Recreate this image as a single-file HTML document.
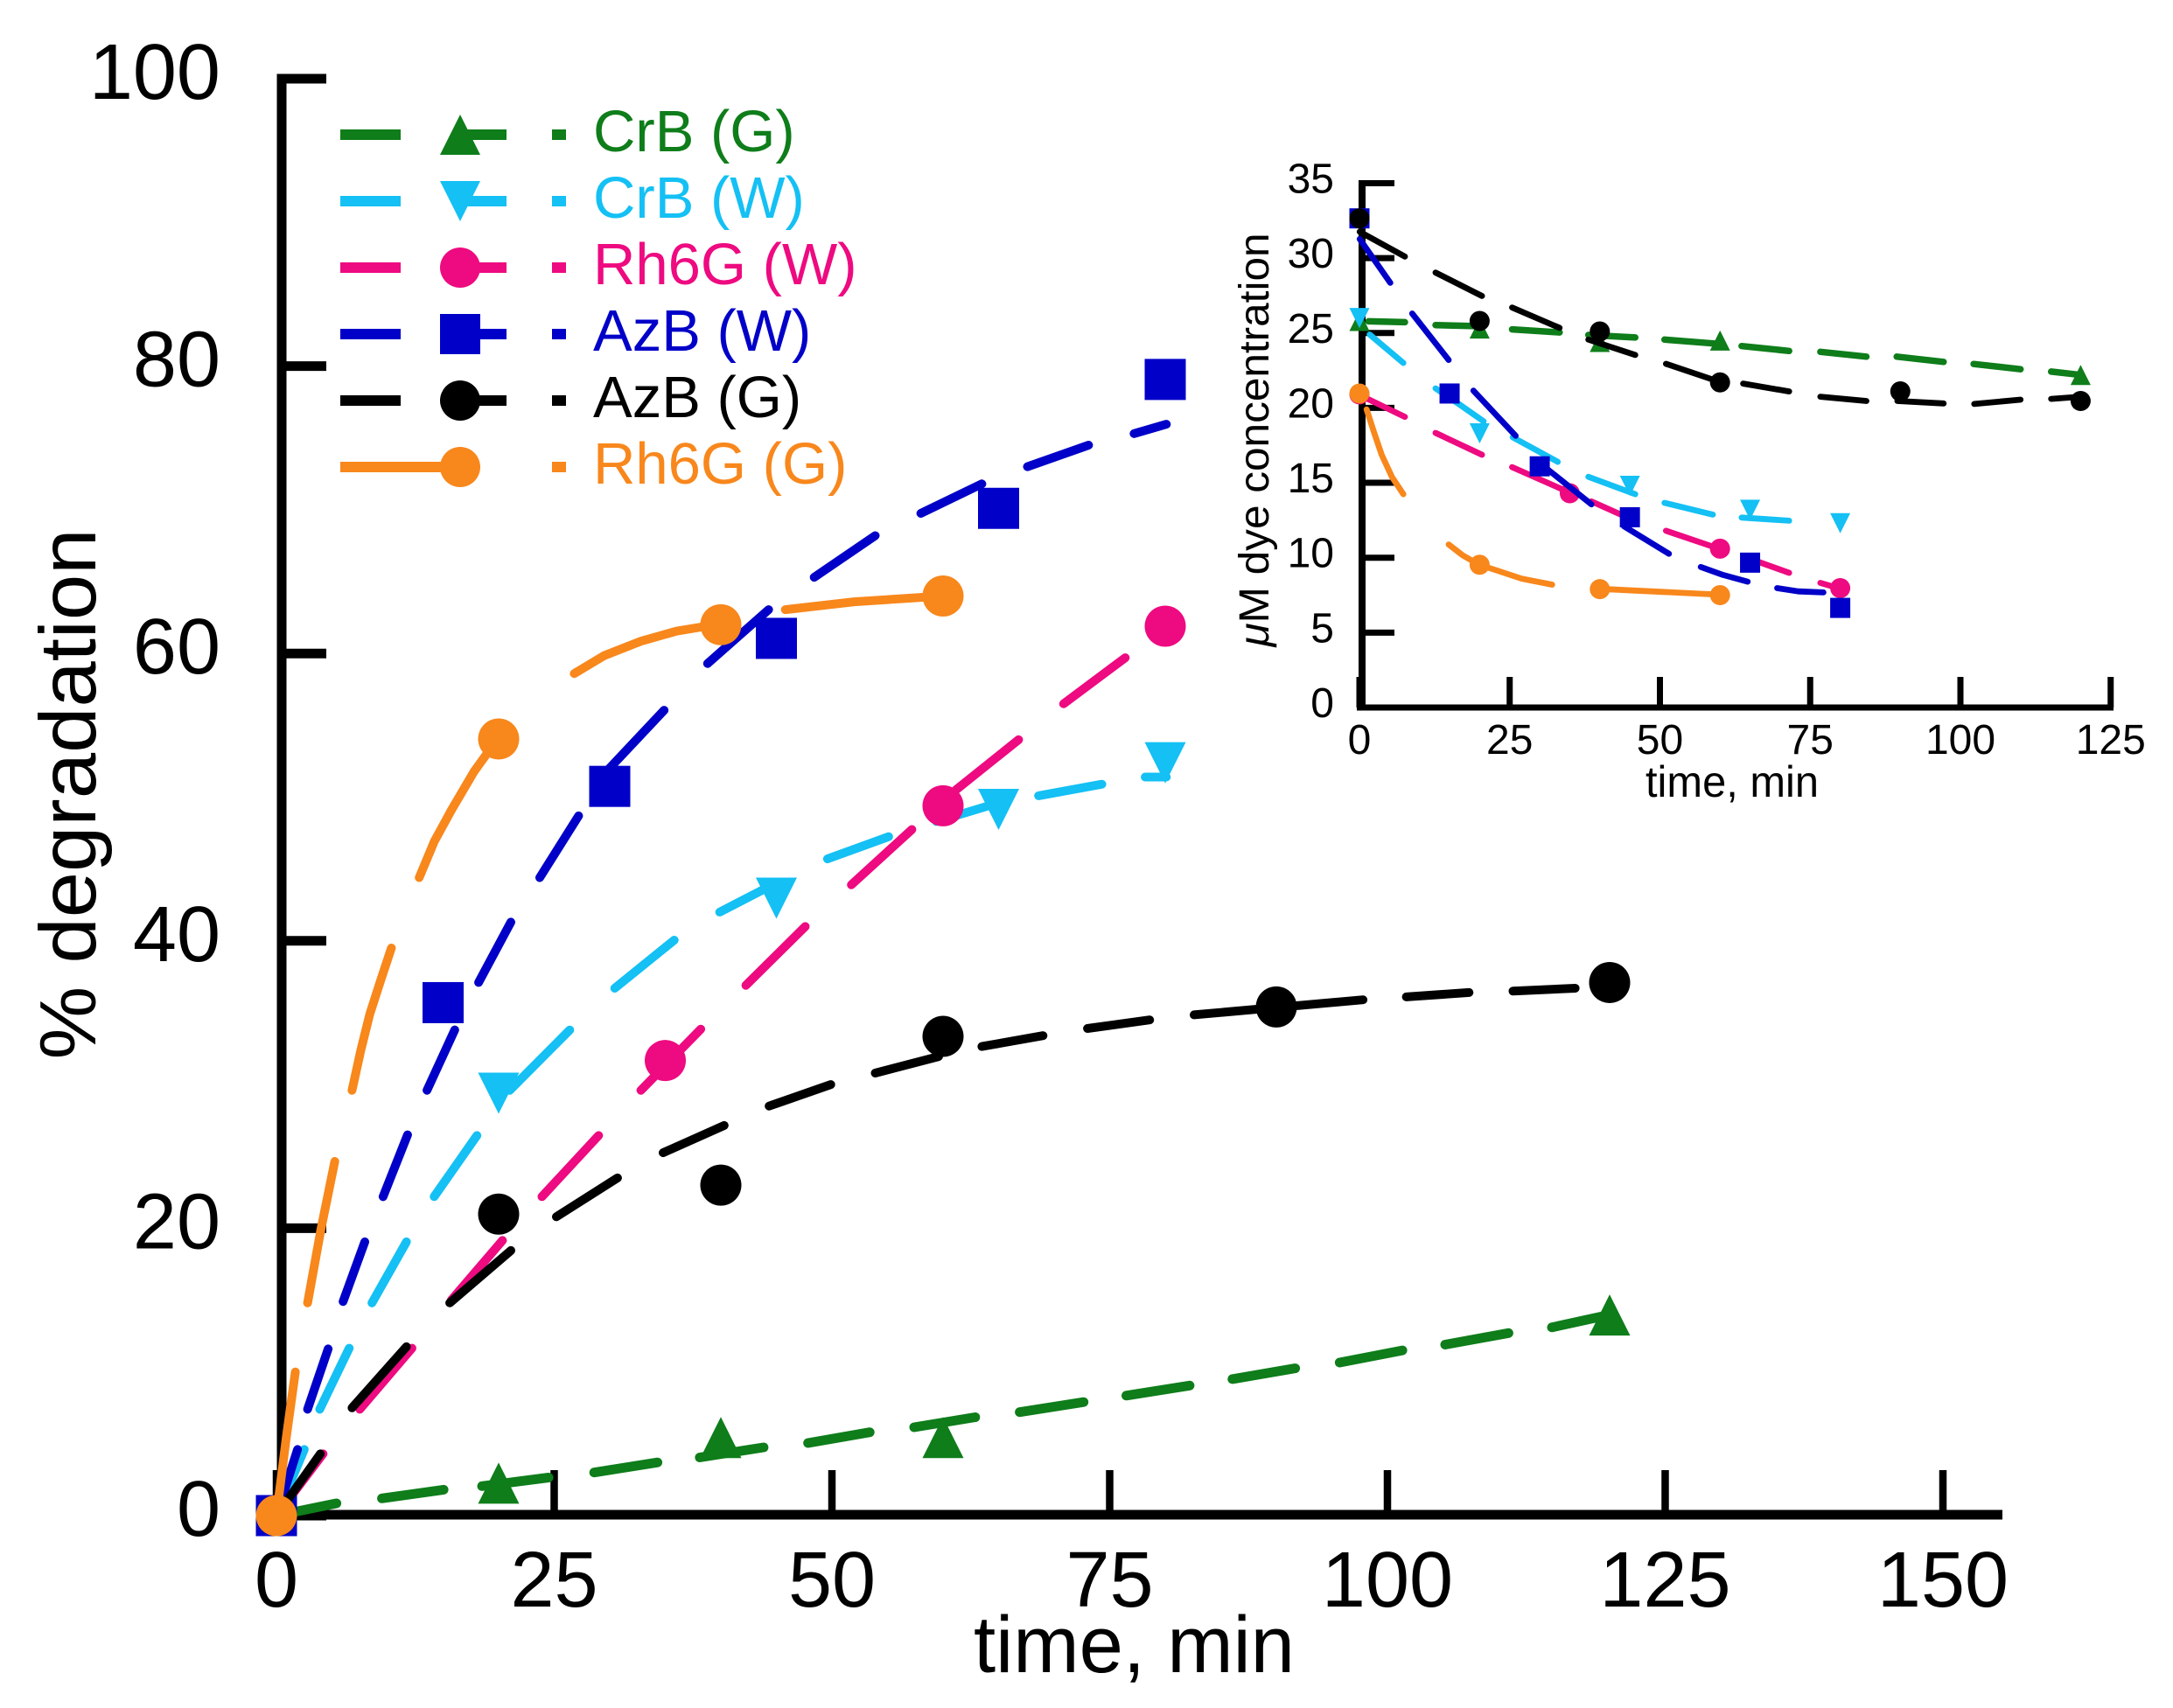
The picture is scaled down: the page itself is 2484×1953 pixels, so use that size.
<!DOCTYPE html>
<html lang="en">
<head>
<meta charset="utf-8">
<title>Dye degradation vs time</title>
<style>
  html, body { margin: 0; padding: 0; background: #fff; }
  body { width: 2484px; height: 1953px; overflow: hidden; }
  svg { display: block; font-family: "Liberation Sans", Arial, sans-serif; }
</style>
</head>
<body>
<svg id="chart" xmlns="http://www.w3.org/2000/svg" width="2484" height="1953" viewBox="0 0 2484 1953">
  <rect x="0" y="0" width="2484" height="1953" fill="#ffffff"/>
  <g id="main-plot"></g>
  <g id="inset-plot"></g>

  <text transform="translate(109 908) rotate(-90)" text-anchor="middle" font-size="91" textLength="607" lengthAdjust="spacingAndGlyphs" fill="#000">% degradation</text>
  <text x="1113" y="1912" font-size="92" textLength="367" lengthAdjust="spacingAndGlyphs" fill="#000">time, min</text>
  <text transform="translate(1450 503) rotate(-90)" text-anchor="middle" font-size="48" textLength="473" lengthAdjust="spacingAndGlyphs" fill="#000"><tspan font-style="italic">μ</tspan>M dye concentration</text>
  <text x="1881" y="911" font-size="50" textLength="198" lengthAdjust="spacingAndGlyphs" fill="#000">time, min</text>

  <g stroke-width="12">
    <g>
      <path d="M389 154H458M526 154H579M631 154H647" stroke="#0e7d1a" fill="none"/>
      <polygon points="526,131 503,177 549,177" fill="#0e7d1a"/>
      <text x="678" y="173" font-size="67" fill="#0e7d1a">CrB (G)</text>
    </g>
    <g>
      <path d="M389 230H458M526 230H579M631 230H647" stroke="#14c0f4" fill="none"/>
      <polygon points="503,207 549,207 526,253" fill="#14c0f4"/>
      <text x="678" y="249" font-size="67" fill="#14c0f4">CrB (W)</text>
    </g>
    <g>
      <path d="M389 306H458M526 306H579M631 306H647" stroke="#ee0a80" fill="none"/>
      <circle cx="526" cy="306" r="23" fill="#ee0a80"/>
      <text x="678" y="325" font-size="67" fill="#ee0a80">Rh6G (W)</text>
    </g>
    <g>
      <path d="M389 382H458M526 382H579M631 382H647" stroke="#0000c8" fill="none"/>
      <rect x="503" y="359" width="46" height="46" fill="#0000c8"/>
      <text x="678" y="401" font-size="67" fill="#0000c8">AzB (W)</text>
    </g>
    <g>
      <path d="M389 458H458M526 458H579M631 458H647" stroke="#000" fill="none"/>
      <circle cx="526" cy="458" r="23" fill="#000"/>
      <text x="678" y="477" font-size="67" fill="#000">AzB (G)</text>
    </g>
    <g>
      <path d="M389 534H526M631 534H647" stroke="#f8871c" fill="none"/>
      <circle cx="526" cy="534" r="23" fill="#f8871c"/>
      <text x="678" y="553" font-size="67" fill="#f8871c">Rh6G (G)</text>
    </g>
  </g>
</svg>

<script>
// ---------- Main plot data ----------
const mainXTicks = [0, 25, 50, 75, 100, 125, 150];
const mainYTicks = [0, 20, 40, 60, 80, 100];

const mainCrbGTimes = [20, 40, 60, 120];
const mainCrbGValues = [2.26, 5.43, 5.43, 13.96];
const mainCrbGFitTimes = [0, 5.4, null, 9.5, 15.05, null, 18.5, 24.5, null, 28.6, 34.3, null, 38.1, 43.85, null, 47.85, 53.4, null, 57.4, 62.9, null, 66.9, 72.65, null, 76.5, 82.2, null, 86.05, 91.7, null, 95.7, 101.35, null, 105.2, 110.9, null, 114.8, 119.85];
const mainCrbGFitValues = [0, 0.85, null, 1.2, 1.8, null, 2.05, 2.65, null, 3.0, 3.7, null, 4.05, 4.75, null, 5.05, 5.8, null, 6.15, 6.85, null, 7.2, 7.9, null, 8.35, 9.05, null, 9.5, 10.25, null, 10.65, 11.5, null, 11.9, 12.7, null, 13.1, 13.95];

const mainCrbWTimes = [0, 20, 45, 65, 80];
const mainCrbWValues = [0, 29.4, 42.97, 49.15, 52.4];
const mainCrbWFitTimes = [0, 2.5, null, 3.9, 6.55, null, 8.6, 11.7, null, 14.2, 18.05, null, 21.0, 26.4, null, 30.45, 35.8, null, 39.9, 44.4, null, 49.6, 55.1, null, 59.4, 64.1, null, 68.6, 74.3, null, 78.2, 80.1];
const mainCrbWFitValues = [0, 4.6, null, 7.4, 11.65, null, 14.8, 19.05, null, 22.2, 26.45, null, 29.6, 33.8, null, 36.7, 40.05, null, 42, 43.8, null, 45.7, 47.25, null, 48.3, 49.4, null, 50.1, 50.9, null, 51.4, 51.4];

const mainRh6gWTimes = [0, 35, 60, 80];
const mainRh6gWValues = [0, 31.67, 49.4, 61.9];
const mainRh6gWFitTimes = [0, 4.2, null, 7.5, 12.2, null, 15.75, 20.35, null, 23.9, 29, null, 32.8, 38.2, null, 42.25, 47.6, null, 51.75, 57.2, null, 61.15, 66.8, null, 70.85, 76.4];
const mainRh6gWFitValues = [0, 4.3, null, 7.4, 11.65, null, 15, 19.15, null, 22.2, 26.45, null, 29.6, 33.85, null, 36.9, 41, null, 43.9, 47.75, null, 50.5, 54, null, 56.5, 59.7];

const mainAzbWTimes = [0, 15, 30, 45, 65, 80];
const mainAzbWValues = [0, 35.7, 50.75, 61.05, 70.1, 79.07];
const mainAzbWFitTimes = [0, 1.9, null, 2.8, 4.65, null, 6.0, 7.95, null, 9.6, 11.8, null, 13.55, 16.05, null, 18.2, 21.1, null, 23.7, 27.2, null, 29.84, 34.9, null, 38.8, 44.3, null, 48.4, 53.9, null, 58.0, 63.5, null, 67.6, 73.1, null, 77.2, 80.1];
const mainAzbWFitValues = [0, 4.6, null, 7.4, 11.6, null, 14.9, 19.05, null, 22.2, 26.5, null, 29.6, 33.8, null, 37.1, 41.3, null, 44.4, 48.7, null, 51.9, 56.05, null, 59.3, 63.05, null, 65.3, 68.2, null, 69.75, 71.8, null, 73.0, 74.5, null, 75.3, 75.95];

const mainAzbGTimes = [0, 20, 40, 60, 90, 120];
const mainAzbGValues = [0, 20.98, 23.0, 33.35, 35.4, 37.1];
const mainAzbGFitTimes = [0, 3.95, null, 6.8, 11.7, null, 15.6, 21.1, null, 25.2, 30.7, null, 34.8, 40.3, null, 44.35, 49.9, null, 53.9, 59.6, null, 63.5, 69, null, 73, 78.6, null, 82.6, 97.8, null, 101.7, 107.35, null, 111.3, 116.9];
const mainAzbGFitValues = [0, 4.3, null, 7.5, 11.75, null, 14.8, 18.45, null, 20.8, 23.5, null, 25.25, 27.15, null, 28.5, 30, null, 30.8, 31.95, null, 32.65, 33.4, null, 33.9, 34.5, null, 34.85, 35.9, null, 36.1, 36.4, null, 36.5, 36.7];

const mainRh6gGTimes = [0, 20, 40, 60];
const mainRh6gGValues = [0, 54.05, 62.0, 64.0];
const mainRh6gGFitTimes = [0, 0.9, 1.7, null, 2.8, 4, 5.25, null, 6.8, 7.6, 8.4, 9.4, 10.35, null, 12.85, 14.2, 15.75, 17.8, 19.9, null, 26.8, 29.5, 32.8, 36, 39.9, null, 45.8, 52, 60];
const mainRh6gGFitValues = [0, 5.5, 10.0, null, 14.8, 19.9, 24.65, null, 29.6, 32.4, 34.9, 37.3, 39.5, null, 44.4, 46.9, 49.1, 51.8, 54.05, null, 58.6, 59.85, 60.85, 61.55, 62.05, null, 63.05, 63.6, 64];

// ---------- Inset plot data ----------
const insetXTicks = [0, 25, 50, 75, 100, 125];
const insetYTicks = [0, 5, 10, 15, 20, 25, 30, 35];

const insetCrbGTimes = [0, 20, 40, 60, 120];
const insetCrbGValues = [25.8, 25.3, 24.4, 24.5, 22.2];
const insetCrbGFitTimes = [1.5, 7.57, null, 12.66, 20.1, null, 25.4, 33.3, null, 38.1, 45.9, null, 50.75, 60, null, 63.6, 71.5, null, 76.7, 84.35, null, 89.4, 97.2, null, 102.2, 110, null, 115.1, 120];
const insetCrbGFitValues = [25.78, 25.72, null, 25.53, 25.45, null, 25.24, 25.04, null, 24.87, 24.7, null, 24.56, 24.27, null, 24.13, 23.8, null, 23.74, 23.42, null, 23.42, 23.07, null, 22.93, 22.58, null, 22.42, 22.2];

const insetCrbWTimes = [0, 20, 45, 65, 80];
const insetCrbWValues = [26, 18.3, 14.8, 13.2, 12.3];
const insetCrbWFitTimes = [1.7, 7.3, null, 12.66, 16.76, 20.67, null, 25.5, 33, null, 38.1, 45.9, null, 50.75, 58.8, null, 63.6, 71.5];
const insetCrbWFitValues = [24.9, 23.0, null, 21.3, 20.2, 19.1, null, 18.04, 16.4, null, 15.4, 14.24, null, 13.66, 12.88, null, 12.68, 12.47];

const insetRh6gWTimes = [0, 35, 60, 80];
const insetRh6gWValues = [20.9, 14.3, 10.6, 7.97];
const insetRh6gWFitTimes = [1.5, 7.57, null, 12.66, 20.4, null, 25.4, 34.9, null, 38.6, 43.5, null, 51, 60, null, 66.4, 71.5, null, 76.7, 79.7];
const insetRh6gWFitValues = [20.57, 19.4, null, 18.33, 16.87, null, 16.05, 14.36, null, 13.76, 12.88, null, 11.8, 10.58, null, 9.72, 8.99, null, 8.32, 7.97];

const insetAzbWTimes = [0, 15, 30, 45, 65, 80];
const insetAzbWValues = [32.65, 20.96, 16.1, 12.7, 9.67, 6.65];
const insetAzbWFitTimes = [0.05, 5.14, null, 8.78, 14.85, null, 18.97, 26, null, 30.1, 38.6, null, 44, 51.5, null, 56.8, 60.5, 64.6, null, 69.5, 73, 77.2];
const insetAzbWFitValues = [31.27, 28.35, null, 26.3, 23.2, null, 21.15, 18.14, null, 16.29, 13.56, null, 12.1, 10.26, null, 9.38, 8.85, 8.4, null, 7.97, 7.75, 7.68];

const insetAzbGTimes = [0, 20, 40, 60, 90, 120];
const insetAzbGValues = [32.65, 25.8, 25.1, 21.7, 21.1, 20.46];
const insetAzbGFitTimes = [0.05, 7.57, null, 12.66, 20.4, null, 25.4, 33.3, null, 38.1, 45.9, null, 51, 60, null, 63.85, 71.5, null, 76.7, 84.35, null, 89.5, 97.2, null, 102.3, 110, null, 115.1, 120];
const insetAzbGFitValues = [31.76, 30.1, null, 29.03, 27.47, null, 26.7, 25.34, null, 24.56, 23.53, null, 22.94, 21.73, null, 21.62, 21.1, null, 20.75, 20.46, null, 20.46, 20.3, null, 20.26, 20.55, null, 20.6, 20.75];

const insetRh6gGTimes = [0, 20, 40, 60];
const insetRh6gGValues = [20.96, 9.53, 7.9, 7.5];
const insetRh6gGFitTimes = [1.2, 2.4, 3.7, 5.4, 7.3, null, 14.85, 17.2, 19.94, 22.6, 27, 32.07, null, 40, 60];
const insetRh6gGFitValues = [19.9, 18.4, 16.87, 15.4, 14.24, null, 10.88, 10.15, 9.53, 9.18, 8.6, 8.2, null, 7.92, 7.53];

// ---------- Drawing ----------
const SVG_NS = 'http://www.w3.org/2000/svg';

function makeEl(parent, tag, attrs) {
  const el = document.createElementNS(SVG_NS, tag);
  for (const k in attrs) el.setAttribute(k, attrs[k]);
  parent.appendChild(el);
  return el;
}

function drawMarker(parent, shape, cx, cy, size, color) {
  const h = size / 2;
  let el;
  if (shape === 'circle') {
    el = makeEl(parent, 'circle', { cx: cx, cy: cy, r: h, fill: color });
  } else if (shape === 'square') {
    el = makeEl(parent, 'rect', { x: cx - h, y: cy - h, width: size, height: size, fill: color });
  } else if (shape === 'up') {
    el = makeEl(parent, 'polygon', { points: cx + ',' + (cy - h) + ' ' + (cx - h) + ',' + (cy + h) + ' ' + (cx + h) + ',' + (cy + h), fill: color });
  } else {
    el = makeEl(parent, 'polygon', { points: (cx - h) + ',' + (cy - h) + ' ' + (cx + h) + ',' + (cy - h) + ' ' + cx + ',' + (cy + h), fill: color });
  }
  
  
}

function fitPath(times, values, sx, sy) {
  let d = '';
  let start = true;
  for (let i = 0; i < times.length; i++) {
    if (times[i] === null || values[i] === null) { start = true; continue; }
    d += (start ? 'M' : 'L') + sx(times[i]).toFixed(1) + ' ' + sy(values[i]).toFixed(1);
    start = false;
  }
  return d;
}

function drawPanel(cfg) {
  const root = document.getElementById(cfg.id);
  const sx = function (t) { return cfg.x0 + cfg.xScale * t; };
  const sy = function (v) { return cfg.y0 - cfg.yScale * v; };

  cfg.series.forEach(function (s) {
    const g = makeEl(root, 'g', {});
    
    
    const line = makeEl(g, 'path', {
      d: fitPath(s.fitT, s.fitV, sx, sy), fill: 'none', stroke: s.color,
      'stroke-width': cfg.lineWidth * (s.heavy || 1), 'stroke-linecap': 'round', 'stroke-linejoin': 'round'
    });
    
    
    s.t.forEach(function (t, i) {
      drawMarker(g, s.shape, sx(t), sy(s.v[i]), cfg.markerSize, s.color);
    });
  });

  const axes = document.createElementNS(SVG_NS, 'g');
  
  
  root.insertBefore(axes, root.firstChild);

  const yLine = makeEl(axes, 'line', { x1: cfg.yAxisX, x2: cfg.yAxisX, y1: sy(cfg.yTicks[cfg.yTicks.length - 1]) - cfg.yTickW / 2, y2: cfg.xAxisY + cfg.xAxisW / 2, stroke: '#000', 'stroke-width': cfg.yAxisW });
  
  
  const xLine = makeEl(axes, 'line', { x1: cfg.xAxisStart, x2: cfg.xAxisEnd, y1: cfg.xAxisY, y2: cfg.xAxisY, stroke: '#000', 'stroke-width': cfg.xAxisW });
  
  

  cfg.xTicks.forEach(function (t) {
    const tick = makeEl(axes, 'line', { x1: sx(t), x2: sx(t), y1: cfg.xAxisY, y2: cfg.xTickTop, stroke: '#000', 'stroke-width': cfg.xTickW });
    
    
    const label = makeEl(axes, 'text', { x: sx(t), y: cfg.xLabelY, 'text-anchor': 'middle', 'font-size': cfg.tickFont, fill: '#000' });
    label.textContent = String(t);
    
    
  });

  cfg.yTicks.forEach(function (v) {
    const tick = makeEl(axes, 'line', { x1: cfg.yAxisX, x2: cfg.yTickEnd, y1: sy(v), y2: sy(v), stroke: '#000', 'stroke-width': cfg.yTickW });
    
    
    const label = makeEl(axes, 'text', { x: cfg.yLabelX, y: sy(v) + cfg.yLabelDy, 'text-anchor': 'end', 'font-size': cfg.tickFont, fill: '#000' });
    label.textContent = String(v);
    
    
  });
}

const colorGreen = '#0e7d1a', colorCyan = '#14c0f4', colorPink = '#ee0a80',
      colorBlue = '#0000c8', colorBlack = '#000000', colorOrange = '#f8871c';

drawPanel({
  id: 'main-plot', x0: 316, y0: 1733, xScale: 12.7, yScale: 16.43,
  lineWidth: 10, markerSize: 47,
  yAxisX: 322, yAxisW: 11, xAxisY: 1732, xAxisW: 11, xAxisStart: 316, xAxisEnd: 2289,
  xTickTop: 1681, xTickW: 8.5, yTickEnd: 373, yTickW: 11,
  xLabelY: 1837, yLabelX: 252, yLabelDy: 23, tickFont: 90,
  xTicks: mainXTicks, yTicks: mainYTicks,
  series: [
    { name: 'crb-g', color: colorGreen, shape: 'up', heavy: 1.1, t: mainCrbGTimes, v: mainCrbGValues, fitT: mainCrbGFitTimes, fitV: mainCrbGFitValues },
    { name: 'crb-w', color: colorCyan, shape: 'down', t: mainCrbWTimes, v: mainCrbWValues, fitT: mainCrbWFitTimes, fitV: mainCrbWFitValues },
    { name: 'rh6g-w', color: colorPink, shape: 'circle', t: mainRh6gWTimes, v: mainRh6gWValues, fitT: mainRh6gWFitTimes, fitV: mainRh6gWFitValues },
    { name: 'azb-w', color: colorBlue, shape: 'square', t: mainAzbWTimes, v: mainAzbWValues, fitT: mainAzbWFitTimes, fitV: mainAzbWFitValues },
    { name: 'azb-g', color: colorBlack, shape: 'circle', t: mainAzbGTimes, v: mainAzbGValues, fitT: mainAzbGFitTimes, fitV: mainAzbGFitValues },
    { name: 'rh6g-g', color: colorOrange, shape: 'circle', t: mainRh6gGTimes, v: mainRh6gGValues, fitT: mainRh6gGFitTimes, fitV: mainRh6gGFitValues }
  ]
});

drawPanel({
  id: 'inset-plot', x0: 1554, y0: 809, xScale: 6.87, yScale: 17.13,
  lineWidth: 6.8, markerSize: 23,
  yAxisX: 1557, yAxisW: 8, xAxisY: 809, xAxisW: 7, xAxisStart: 1551, xAxisEnd: 2416,
  xTickTop: 774, xTickW: 7, yTickEnd: 1594, yTickW: 7,
  xLabelY: 862, yLabelX: 1525, yLabelDy: 11, tickFont: 48,
  xTicks: insetXTicks, yTicks: insetYTicks,
  series: [
    { name: 'inset-crb-g', color: colorGreen, shape: 'up', heavy: 1.1, t: insetCrbGTimes, v: insetCrbGValues, fitT: insetCrbGFitTimes, fitV: insetCrbGFitValues },
    { name: 'inset-crb-w', color: colorCyan, shape: 'down', t: insetCrbWTimes, v: insetCrbWValues, fitT: insetCrbWFitTimes, fitV: insetCrbWFitValues },
    { name: 'inset-rh6g-w', color: colorPink, shape: 'circle', t: insetRh6gWTimes, v: insetRh6gWValues, fitT: insetRh6gWFitTimes, fitV: insetRh6gWFitValues },
    { name: 'inset-azb-w', color: colorBlue, shape: 'square', t: insetAzbWTimes, v: insetAzbWValues, fitT: insetAzbWFitTimes, fitV: insetAzbWFitValues },
    { name: 'inset-azb-g', color: colorBlack, shape: 'circle', t: insetAzbGTimes, v: insetAzbGValues, fitT: insetAzbGFitTimes, fitV: insetAzbGFitValues },
    { name: 'inset-rh6g-g', color: colorOrange, shape: 'circle', t: insetRh6gGTimes, v: insetRh6gGValues, fitT: insetRh6gGFitTimes, fitV: insetRh6gGFitValues }
  ]
});
</script>
</body>
</html>
